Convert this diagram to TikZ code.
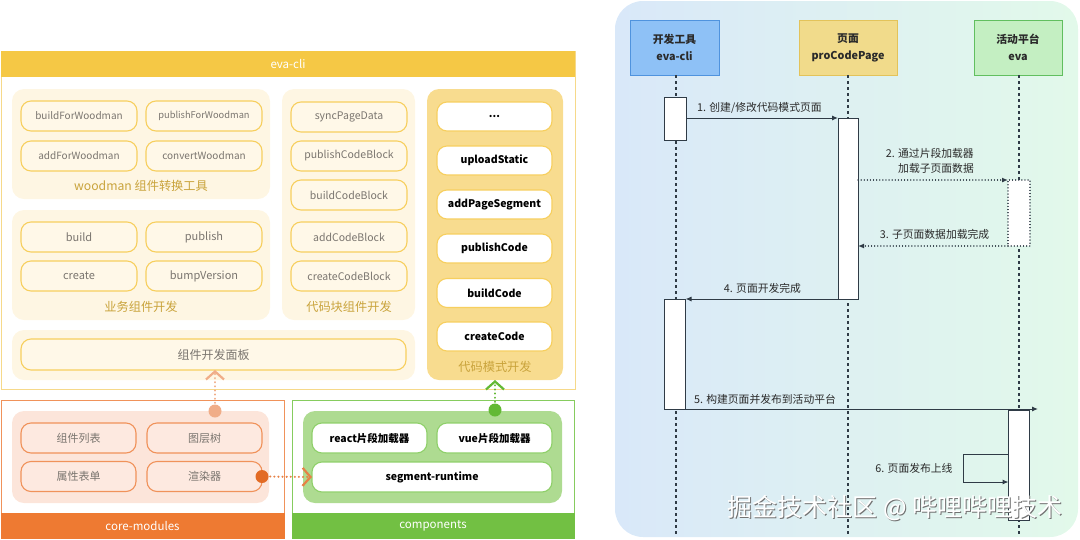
\documentclass[tikz,border=0pt]{standalone}
\usepackage{fontspec}
\setmainfont{Noto Sans CJK SC}
\usetikzlibrary{arrows.meta,calc}
\definecolor{cYHead}{HTML}{F5C845}
\definecolor{cYBorder}{HTML}{F6D98A}
\definecolor{cGrpY}{HTML}{FEF6E3}
\definecolor{cItmY}{HTML}{FFF8E8}
\definecolor{cItmB}{HTML}{F7CF5E}
\definecolor{cGray}{HTML}{7A756F}
\definecolor{cGold}{HTML}{C9A33B}
\definecolor{cPM}{HTML}{F8DC8F}
\definecolor{cOr}{HTML}{EE7A32}
\definecolor{cOrB}{HTML}{F0925A}
\definecolor{cOrGrp}{HTML}{FCE5DA}
\definecolor{cOrItm}{HTML}{FDE9E0}
\definecolor{cOrL}{HTML}{F0AD88}
\definecolor{cOrD}{HTML}{E26B25}
\definecolor{cGreen}{HTML}{72C043}
\definecolor{cGrB}{HTML}{86CC5E}
\definecolor{cGrGrp}{HTML}{AEDB91}
\definecolor{cGrItmB}{HTML}{8FD06A}
\definecolor{cGrDot}{HTML}{63B935}
\definecolor{cBlueF}{HTML}{8EC1F6}
\definecolor{cBlueD}{HTML}{4F93DE}
\definecolor{cPageF}{HTML}{F1DB8B}
\definecolor{cPageD}{HTML}{E3C35A}
\definecolor{cEvaF}{HTML}{C4EFC2}
\definecolor{cEvaD}{HTML}{61BF5F}
\definecolor{cLine}{HTML}{2F3B46}
\definecolor{cTxt}{HTML}{2A2A2A}
\definecolor{bgL}{HTML}{D9E8F9}
\definecolor{bgR}{HTML}{E2F9EA}
\begin{document}
\begin{tikzpicture}[x=1pt,y=-1pt,
  box/.style={rectangle,inner sep=0pt,outer sep=0pt,anchor=center},
  grp/.style={box,fill=#1,rounded corners=12pt},
  yitm/.style={box,draw=cItmB,line width=1.1pt,fill=cItmY,rounded corners=10pt,
    minimum width=116pt,minimum height=30pt,text=cGray,font=\fontsize{10}{12}\selectfont},
  witm/.style={box,draw=cItmB,line width=1.1pt,fill=white,rounded corners=10pt,
    minimum width=115pt,minimum height=29pt,text=black,font=\fontsize{10.5}{12}\selectfont\bfseries},
  oitm/.style={box,draw=cOrB,line width=1.1pt,fill=cOrItm,rounded corners=10pt,
    minimum width=115pt,minimum height=30pt,text=cGray,font=\fontsize{11}{12}\selectfont},
  gitm/.style={box,draw=cGrItmB,line width=1.1pt,fill=white,rounded corners=10pt,
    minimum width=115pt,minimum height=30pt,text=black,font=\fontsize{10.5}{12}\selectfont\bfseries},
  glbl/.style={text=cGold,font=\fontsize{12.2}{14}\selectfont,inner sep=0pt},
  foot/.style={box,text=white,font=\fontsize{11.5}{13}\selectfont},
  conn/.style={line width=2.2pt,line cap=round,dash pattern=on 0.1pt off 4pt,
    -{Straight Barb[length=8pt,width=18pt,line width=2.2pt]}},
  head/.style={box,line width=1pt,minimum height=55pt,align=center,text=cTxt,
    font=\fontsize{10.8}{17}\selectfont\bfseries},
  life/.style={cLine,line width=1.1pt,dash pattern=on 3pt off 3pt},
  act/.style={box,draw=cLine,fill=white,line width=1pt},
  msg/.style={cLine,line width=1pt,-{Latex[length=6pt,width=5pt]}},
  msgd/.style={cLine,line width=1.2pt,line cap=round,dash pattern=on 0.1pt off 3pt,-{Latex[length=6pt,width=5pt]}},
  lbl/.style={text=cTxt,font=\fontsize{10.8}{15}\selectfont,inner sep=0pt}
]
\useasboundingbox (0,0) rectangle (1080,539);

% ---------------- eva-cli ----------------
\node[box,draw=cYBorder,line width=1pt,minimum width=574pt,minimum height=338pt] (cliBody) at (288,220) {};
\node[box,fill=cYHead,minimum width=574pt,minimum height=26pt,text=white,font=\fontsize{11.5}{13}\selectfont] (cliHead) at (288,64) {eva-cli};

% woodman group
\node[grp=cGrpY,minimum width=258pt,minimum height=110pt] (woodGrp) at (141,144) {};
\node[yitm] (bfw) at (79,116) {buildForWoodman};
\node[yitm,font=\fontsize{9.3}{12}\selectfont] (pfw) at (204,116) {publishForWoodman};
\node[yitm] (afw) at (79,156) {addForWoodman};
\node[yitm] (cw) at (204,156) {convertWoodman};
\node[glbl] (woodLbl) at (141,186) {woodman 组件转换工具};

% business group
\node[grp=cGrpY,minimum width=258pt,minimum height=110pt] (bizGrp) at (141,265) {};
\node[yitm,font=\fontsize{11}{12}\selectfont] (bBuild) at (79,237) {build};
\node[yitm,font=\fontsize{11}{12}\selectfont] (bPub) at (204,237) {publish};
\node[yitm,font=\fontsize{11}{12}\selectfont] (bCreate) at (79,276) {create};
\node[yitm,font=\fontsize{11}{12}\selectfont] (bBump) at (204,276) {bumpVersion};
\node[glbl] (bizLbl) at (141,307) {业务组件开发};

% code block group
\node[grp=cGrpY,minimum width=133pt,minimum height=231pt] (cbGrp) at (348.5,204.5) {};
\node[yitm,font=\fontsize{10.5}{12}\selectfont] (cbSync) at (349,117) {syncPageData};
\node[yitm,font=\fontsize{10.5}{12}\selectfont] (cbPub) at (349,156) {publishCodeBlock};
\node[yitm,font=\fontsize{10.5}{12}\selectfont] (cbBuild) at (349,195) {buildCodeBlock};
\node[yitm,font=\fontsize{10.5}{12}\selectfont] (cbAdd) at (349,237) {addCodeBlock};
\node[yitm,font=\fontsize{10.5}{12}\selectfont] (cbCreate) at (349,276) {createCodeBlock};
\node[glbl] (cbLbl) at (349,307) {代码块组件开发};

% panel group
\node[grp=cGrpY,minimum width=403pt,minimum height=50pt] (panelGrp) at (213.5,355) {};
\node[yitm,minimum width=385pt,minimum height=31pt,font=\fontsize{12}{14}\selectfont] (panelIn) at (213.5,354.5) {组件开发面板};

% code mode group
\node[grp=cPM,minimum width=136pt,minimum height=291pt] (pmGrp) at (495,234.5) {};
\node[witm] (pmDots) at (494.5,116.5) {...};
\node[witm] (pmUp) at (494.5,160.5) {uploadStatic};
\node[witm] (pmAdd) at (494.5,204.5) {addPageSegment};
\node[witm] (pmPub) at (494.5,248.5) {publishCode};
\node[witm] (pmBuild) at (494.5,293) {buildCode};
\node[witm] (pmCreate) at (494.5,336.5) {createCode};
\node[glbl] (pmLbl) at (495,367) {代码模式开发};

% ---------------- core-modules ----------------
\node[box,draw=cOrB,line width=1pt,minimum width=283pt,minimum height=138pt] (coreBox) at (142.5,469) {};
\node[foot,fill=cOr,minimum width=284pt,minimum height=26pt] (coreFoot) at (142.5,526) {core-modules};
\node[grp=cOrGrp,minimum width=257pt,minimum height=92pt] (coreIn) at (140.5,457) {};
\node[oitm] (cList) at (78.5,438) {组件列表};
\node[oitm] (cTree) at (204.5,438) {图层树};
\node[oitm] (cForm) at (78.5,476.5) {属性表单};
\node[oitm] (cRend) at (204.5,476.5) {渲染器};

% ---------------- components ----------------
\node[box,draw=cGrB,line width=1pt,minimum width=282pt,minimum height=138pt] (compBox) at (433,469) {};
\node[foot,fill=cGreen,minimum width=283pt,minimum height=26pt] (compFoot) at (433,526) {components};
\node[grp=cGrGrp,minimum width=259pt,minimum height=92pt] (compIn) at (432.5,457) {};
\node[gitm] (react) at (369.5,438) {react片段加载器};
\node[gitm] (vue) at (494.5,438) {vue片段加载器};
\node[gitm,minimum width=240pt] (segrt) at (432,477) {segment-runtime};

% ---------------- connectors (left) ----------------
\coordinate (dA) at (215,411);
\draw[conn,cOrL] (dA) -- (dA |- panelIn.south);
\fill[cOrL] (dA) circle[radius=6.5pt];
\coordinate (dB) at (cRend.east);
\draw[conn,cOrD!85] (dB) -- (segrt.west);
\fill[cOrD] (dB) circle[radius=6.5pt];
\coordinate (dC) at (495,410);
\draw[conn,cGrDot] (dC) -- (dC |- pmGrp.south);
\fill[cGrDot] (dC) circle[radius=6.5pt];

% ---------------- sequence diagram ----------------
\node[box,rounded corners=28pt,left color=bgL,right color=bgR,minimum width=463pt,minimum height=536pt] (seqBg) at (846.5,269) {};
\node[head,fill=cBlueF,draw=cBlueD,minimum width=89pt] (hCli) at (674.5,47.5) {开发工具\\eva-cli};
\node[head,fill=cPageF,draw=cPageD,minimum width=98pt] (hPage) at (848,47.5) {页面\\proCodePage};
\node[head,fill=cEvaF,draw=cEvaD,minimum width=88pt] (hEva) at (1018,47.5) {活动平台\\eva};

\coordinate (bot) at (0,536);
\draw[life] (hCli.south) ++(1.5,0) coordinate (lc) -- (lc |- bot);
\draw[life] (hPage.south) -- (hPage.south |- bot);
\draw[life] (hEva.south) ++(1,0) coordinate (le) -- (le |- bot);

\node[act,minimum width=22pt,minimum height=43pt] (cliA1) at (675,118.5) {};
\node[act,minimum width=20pt,minimum height=181pt] (pageA) at (848,208.5) {};
\node[box,draw=cLine,fill=white,line width=1.2pt,line cap=round,dash pattern=on 0.1pt off 3pt,minimum width=22pt,minimum height=66pt] (evaA1) at (1019,213) {};
\node[act,minimum width=21pt,minimum height=110pt] (cliA2) at (675,354) {};
\node[act,minimum width=21pt,minimum height=110pt] (evaA2) at (1019,465) {};

% messages
\draw[msg] (cliA1.east |- pageA.north) -- (pageA.north west);
\node[lbl,anchor=west] (l1) at (697,108) {1. 创建/修改代码模式页面};

\draw[msgd] (pageA.east |- evaA1.north) -- (evaA1.north west);
\node[lbl,anchor=east,align=right] (l2) at (974,161) {2. 通过片段加载器\\加载子页面数据};

\draw[msgd] (evaA1.south west) -- (pageA.east |- evaA1.south);
\node[lbl] (l3) at (934.5,234) {3. 子页面数据加载完成};

\draw[msg] (pageA.south west) -- (cliA2.north east);
\node[lbl] (l4) at (762.5,288) {4. 页面开发完成};

\coordinate (m5end) at (1038,409);
\draw[msg] (cliA2.south east) -- (m5end);
\node[lbl] (l5) at (765,399) {5. 构建页面并发布到活动平台};

\coordinate (s6a) at ($(evaA2.north west)+(0,44)$);
\coordinate (s6b) at ($(evaA2.north west)+(0,72)$);
\draw[msg] (s6a) -- ++(-45,0) -- ++(0,28) -- (s6b);
\node[lbl] (l6) at (914,468) {6. 页面发布上线};

% watermark
\node[text=black!55,font=\fontsize{25}{28}\selectfont,inner sep=0pt] (wmS) at (896,509) {掘金技术社区 @ 哔哩哔哩技术};
\node[text=white,font=\fontsize{25}{28}\selectfont,inner sep=0pt] (wm) at (895,508) {掘金技术社区 @ 哔哩哔哩技术};
\end{tikzpicture}
\end{document}
